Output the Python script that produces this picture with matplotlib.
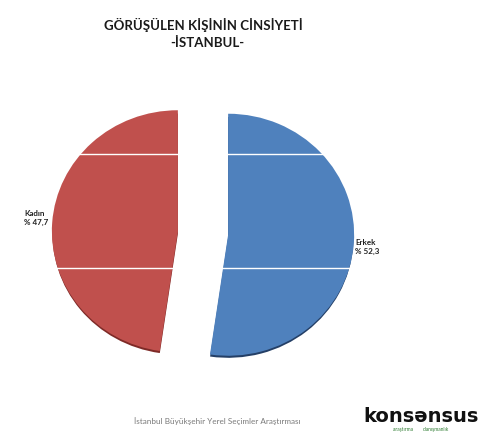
import matplotlib
matplotlib.use("Agg")
import matplotlib.pyplot as plt

labels = ["Erkek", "Kadın"]
values = [52.3, 47.7]
value_labels = ["% 52,3", "% 47,7"]
colors = ["#4F81BD", "#C0504D"]
shadow_colors = ["#243F66", "#7E2A27"]
title_lines = ["GÖRÜŞÜLEN KİŞİNİN CİNSİYETİ", "-İSTANBUL-"]
footer = "İstanbul Büyükşehir Yerel Seçimler Araştırması"

plt.rcParams['font.family'] = ['Lato', 'DejaVu Sans']

fig = plt.figure(figsize=(5.0, 4.36), dpi=100)
ax = fig.add_axes([0.028, 0.0493, 0.756, 0.8326])

explode = [0.2, 0.2]
# shadow layer (3D bottom edge)
ax.pie(values, colors=shadow_colors, startangle=90, counterclock=False,
       explode=explode, center=(0, -0.022), radius=0.995,
       wedgeprops=dict(linewidth=0))
ax.pie(values, colors=colors, startangle=90, counterclock=False,
       explode=explode, center=(0, 0), radius=1.0,
       wedgeprops=dict(linewidth=0))
for yv in [0.653, -0.289]:
    ax.axhline(yv, color="white", lw=1.0, zorder=5)
ax.set_aspect('auto')
ax.set_xlim(-1.5, 1.5)
ax.set_ylim(-1.5, 1.5)
ax.axis('off')

# slice labels
fig.text(24/500, 1 - 218/436, f"{labels[1]}\n{value_labels[1]}", ha='left', va='center',
         fontsize=5.8, fontweight='bold', color='#222222', linespacing=1.45)
fig.text(355/500, 1 - 247/436, f"{labels[0]}\n{value_labels[0]}", ha='left', va='center',
         fontsize=5.8, fontweight='bold', color='#222222', linespacing=1.45)

# title
fig.text(203/500, 1 - 25/436, title_lines[0], ha='center', va='center',
         fontsize=9.5, fontweight='bold', color='#1a1a1a')
fig.text(207/500, 1 - 43/436, title_lines[1], ha='center', va='center',
         fontsize=9.5, fontweight='bold', color='#1a1a1a')

# footer
fig.text(217/500, 1 - 421/436, footer, ha='center', va='center',
         fontsize=5.9, color='#7a7a7a')
fig.text(421/500, 1 - 416/436, "konsənsus", ha='center', va='center',
         fontsize=14, fontweight='bold', color='#111111', family=['DejaVu Sans'])
fig.text(421/500, 1 - 429/436, "araştırma        danışmanlık", ha='center', va='center',
         fontsize=3.5, color='#2E7D32')

fig.savefig("out.png", dpi=100, facecolor='white')
